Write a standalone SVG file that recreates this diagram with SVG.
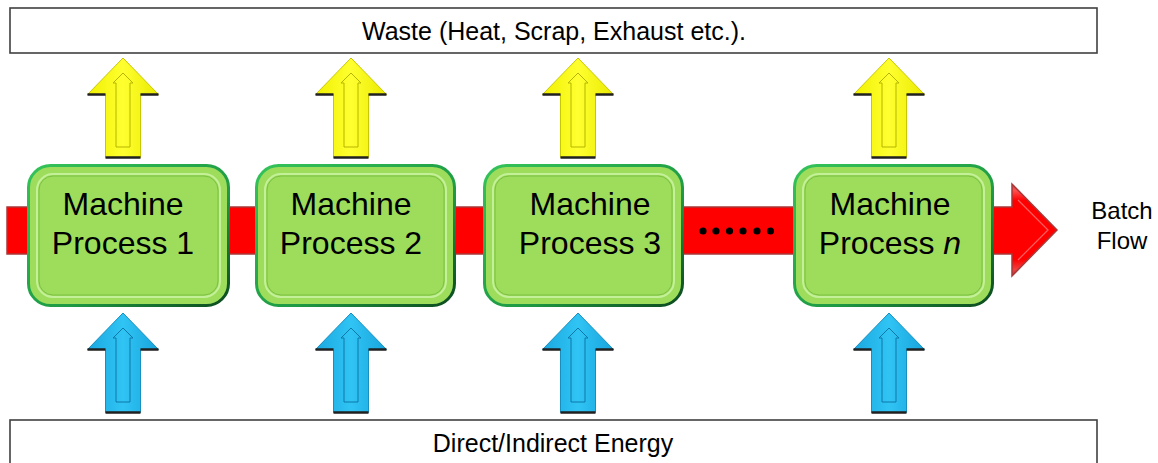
<svg xmlns="http://www.w3.org/2000/svg" width="1158" height="463" viewBox="0 0 1158 463">
<defs>
<style>
.lbl{font-family:"Liberation Sans",Arial,sans-serif;fill:#000;text-anchor:middle}
.big{font-size:32px}
.mid{font-size:25px}
.frame{fill:#fff;stroke:#404040;stroke-width:1.6}
.box{fill:#9ddd5b;stroke:url(#gBoxStroke);stroke-width:3}
.boxIn{fill:none;stroke:#c4f09a;stroke-width:2}
.boxIn2{fill:none;stroke:#7cc044;stroke-width:1}
.yel{fill:url(#gYel);stroke:#c8c800;stroke-width:1}
.yelIn{fill:none;stroke:#b5b500;stroke-width:1}
.blu{fill:url(#gBlu);stroke:#1690c0;stroke-width:1}
.bluIn{fill:none;stroke:#0c78a8;stroke-width:1}
.shade{fill:none;stroke:#202020;stroke-width:2.5}
.dot{fill:#000}
</style>
<linearGradient id="gBoxStroke" x1="0" y1="0" x2="1" y2="1">
<stop offset="0" stop-color="#35c35a"/>
<stop offset="0.6" stop-color="#1e9a44"/>
<stop offset="1" stop-color="#0c4a1e"/>
</linearGradient>
<linearGradient id="gYel" x1="0" y1="0" x2="1" y2="0">
<stop offset="0" stop-color="#f0f000"/>
<stop offset="0.5" stop-color="#ffff30"/>
<stop offset="1" stop-color="#eaea00"/>
</linearGradient>
<linearGradient id="gBlu" x1="0" y1="0" x2="1" y2="0">
<stop offset="0" stop-color="#1aa8e0"/>
<stop offset="0.5" stop-color="#30c4f4"/>
<stop offset="1" stop-color="#18a4dc"/>
</linearGradient>
<linearGradient id="gRed" x1="0" y1="0" x2="0" y2="1">
<stop offset="0" stop-color="#c04848"/>
<stop offset="0.07" stop-color="#ff5050"/>
<stop offset="0.18" stop-color="#ff0000"/>
<stop offset="0.82" stop-color="#ff0000"/>
<stop offset="0.93" stop-color="#f04040"/>
<stop offset="1" stop-color="#b04040"/>
</linearGradient>
<path id="arrOut" d="M0,0 L35.5,36.5 L17.5,36.5 L17.5,99.5 L-17.5,99.5 L-17.5,36.5 L-35.5,36.5 Z"/>
<path id="arrIn" d="M0,15 L10,25 L7,25 L7,89 L-7,89 L-7,25 L-10,25 Z"/>
<path id="arrShade" d="M-35.5,36.5 L-17.5,36.5 M17.5,36.5 L35.5,36.5 M-17.5,99.5 L17.5,99.5"/>
</defs>

<g id="waste">
<rect class="frame" x="10" y="8" width="1087" height="45"/>
<text class="lbl mid" x="554" y="40">Waste (Heat, Scrap, Exhaust etc.).</text>
</g>

<g id="energy">
<rect class="frame" x="10" y="420" width="1087" height="60"/>
<text class="lbl mid" x="553" y="452">Direct/Indirect Energy</text>
</g>

<g id="connectors">
<g id="batch-flow">
<path d="M7,207 L1012,207 L1012,184 L1057,230 L1012,276 L1012,254 L7,254 Z" fill="url(#gRed)" stroke="#a83838" stroke-width="1.5"/>
<path d="M1018,200 L1048,230 L1018,260" fill="none" stroke="#ff6060" stroke-width="1.2"/>
<g id="dots">
<circle class="dot" cx="703" cy="231" r="3.6"/>
<circle class="dot" cx="716" cy="231" r="3.6"/>
<circle class="dot" cx="729.5" cy="231" r="3.6"/>
<circle class="dot" cx="743" cy="231" r="3.6"/>
<circle class="dot" cx="757" cy="231" r="3.6"/>
<circle class="dot" cx="770.5" cy="231" r="3.6"/>
</g>
</g>
<g id="waste-arrows">
<g transform="translate(123,58)"><use href="#arrOut" class="yel"/><use href="#arrIn" class="yelIn"/><use href="#arrShade" class="shade"/></g>
<g transform="translate(351,58)"><use href="#arrOut" class="yel"/><use href="#arrIn" class="yelIn"/><use href="#arrShade" class="shade"/></g>
<g transform="translate(578,58)"><use href="#arrOut" class="yel"/><use href="#arrIn" class="yelIn"/><use href="#arrShade" class="shade"/></g>
<g transform="translate(889,58)"><use href="#arrOut" class="yel"/><use href="#arrIn" class="yelIn"/><use href="#arrShade" class="shade"/></g>
</g>
<g id="energy-arrows">
<g transform="translate(123,313)"><use href="#arrOut" class="blu"/><use href="#arrIn" class="bluIn"/><use href="#arrShade" class="shade"/></g>
<g transform="translate(351,313)"><use href="#arrOut" class="blu"/><use href="#arrIn" class="bluIn"/><use href="#arrShade" class="shade"/></g>
<g transform="translate(578,313)"><use href="#arrOut" class="blu"/><use href="#arrIn" class="bluIn"/><use href="#arrShade" class="shade"/></g>
<g transform="translate(889,313)"><use href="#arrOut" class="blu"/><use href="#arrIn" class="bluIn"/><use href="#arrShade" class="shade"/></g>
</g>
</g>

<g id="machine1">
<rect class="box" x="28.5" y="165.5" width="200" height="140" rx="22"/>
<rect class="boxIn" x="37" y="174" width="183" height="123" rx="16"/>
<rect class="boxIn2" x="39" y="176" width="179" height="119" rx="14"/>
<text class="lbl big" x="123" y="215">Machine</text>
<text class="lbl big" x="123" y="254">Process 1</text>
</g>

<g id="machine2">
<rect class="box" x="256.5" y="165.5" width="198" height="140" rx="22"/>
<rect class="boxIn" x="265" y="174" width="181" height="123" rx="16"/>
<rect class="boxIn2" x="267" y="176" width="177" height="119" rx="14"/>
<text class="lbl big" x="351" y="215">Machine</text>
<text class="lbl big" x="351" y="254">Process 2</text>
</g>

<g id="machine3">
<rect class="box" x="484.5" y="165.5" width="198" height="140" rx="22"/>
<rect class="boxIn" x="493" y="174" width="181" height="123" rx="16"/>
<rect class="boxIn2" x="495" y="176" width="177" height="119" rx="14"/>
<text class="lbl big" x="590" y="215">Machine</text>
<text class="lbl big" x="590" y="254">Process 3</text>
</g>

<g id="machineN">
<rect class="box" x="794.5" y="165.5" width="198" height="140" rx="22"/>
<rect class="boxIn" x="803" y="174" width="181" height="123" rx="16"/>
<rect class="boxIn2" x="805" y="176" width="177" height="119" rx="14"/>
<text class="lbl big" x="890" y="215">Machine</text>
<text class="lbl big" x="890" y="254">Process <tspan font-style="italic">n</tspan></text>
</g>

<g id="batch-label">
<text class="lbl mid" x="1122" y="219" style="font-size:24px">Batch</text>
<text class="lbl mid" x="1122" y="249" style="font-size:24px">Flow</text>
</g>
</svg>
